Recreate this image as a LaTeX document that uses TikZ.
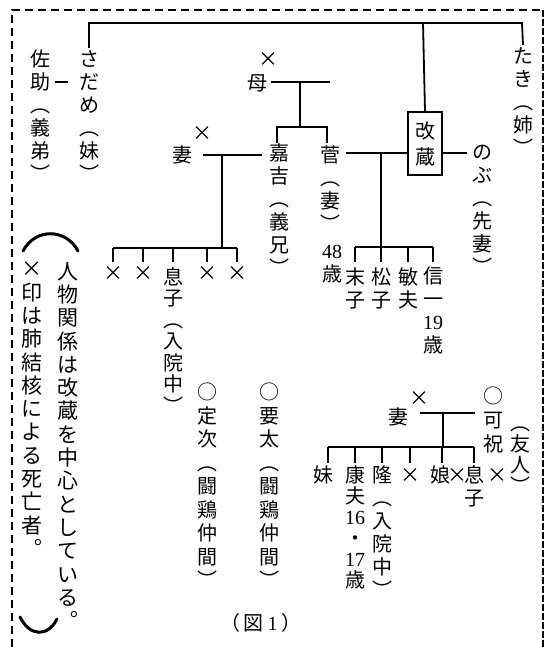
\documentclass[tikz,border=0pt]{standalone}
\usepackage{fontspec}
\setmainfont{Liberation Serif}
\newfontfamily\cjk{Noto Sans CJK JP}
\newcommand{\batsu}{\makebox[12pt]{×}}
\begin{document}
\begin{tikzpicture}[x=1pt,y=-1pt,
  vt/.style={anchor=north, inner sep=0pt, align=center, font=\cjk\fontsize{20}{23}\selectfont},
  ch/.style={inner sep=0pt, font=\cjk\fontsize{20}{20}\selectfont},
  xm/.style={inner sep=0pt, font=\cjk\fontsize{20}{20}\selectfont},
  ln/.style={line width=1.8pt},
  bd/.style={line width=1.5pt, dash pattern=on 8pt off 5pt},
  bdr/.style={line width=1.5pt, dash pattern=on 7pt off 2pt},
  paren/.style={line width=3pt, line cap=round}]
\useasboundingbox (0,0) rectangle (549,647);
% frame
\draw[bd] (12,647) -- (12,10) -- (543,10);
\draw[bdr] (543,10) -- (543,647);

% top generation
\node[vt] (sasuke) at (40,50) {佐\\助\\︵\\義\\弟\\︶};
\node[vt] (sadame) at (89,50) {さ\\だ\\め\\︵\\妹\\︶};
\node[vt] (taki) at (523,47) {た\\き\\︵\\姉\\︶};
\node[draw, line width=1.5pt, inner sep=0pt, minimum width=34pt, minimum height=63pt, align=center,
      font=\cjk\fontsize{20}{26}\selectfont] (kaizo) at (425,143.5) {改\\蔵};
\node[vt] (nobu) at (482,145) {の\\ぶ\\︵\\先\\妻\\︶};
\node[vt] (suga) at (330,145) {菅\\︵\\妻\\︶};
\node[vt] (age48) at (332,245) {{\rmfamily 48}\\歳};

\coordinate (topl) at (88,23);
\coordinate (topk) at (423,23);
\coordinate (topr) at (522,23);
\draw[ln] ([yshift=2pt]sadame.north) |- (topr) -- ([yshift=2pt]taki.north);
\draw[ln] (topk) -- (kaizo.north);

\coordinate (ss1) at (55,82);
\coordinate (ss2) at (68,82);
\draw[ln] (ss1) -- (ss2);

% mother
\node[ch] (mother) at (257,83) {母};
\node[xm] (xmother) at (268,60) {\batsu};
\node[vt] (kakichi) at (279,143) {嘉\\吉\\︵\\義\\兄\\︶};
\coordinate (m1) at (271,82);
\coordinate (m2) at (330,82);
\coordinate (m3) at (300,82);
\coordinate (m4) at (300,127);
\coordinate (kb1) at (277,127);
\coordinate (kb2) at (327,127);
\draw[ln] (m1) -- (m2);
\draw[ln] (m3) -- (m4);
\draw[ln] (kb1 |- kakichi.north) -- (kb1) -- (kb2) -- (kb2 |- kakichi.north);

% kakichi's wife and children
\node[ch] (kwife) at (182,155) {妻};
\node[xm] (xkwife) at (202,134) {\batsu};
\coordinate (w1) at (203,155);
\coordinate (w2) at (262,155);
\coordinate (w3) at (222,155);
\coordinate (wbar) at (222,248);
\draw[ln] (w1) -- (w2);
\draw[ln] (w3) -- (wbar);
\node[xm] (kc1) at (113,274) {\batsu};
\node[xm] (kc2) at (143,274) {\batsu};
\node[vt, font=\cjk\fontsize{20}{21.5}\selectfont] (musuko) at (173,267) {息\\子\\︵\\入\\院\\中\\︶};
\node[xm] (kc4) at (207,274) {\batsu};
\node[xm] (kc5) at (237,274) {\batsu};
\draw[ln] (kc1.north |- wbar) -- (kc5.north |- wbar);
\foreach \n in {kc1,kc2,musuko,kc4,kc5} \draw[ln] (\n.north |- wbar) -- ++(0,14);

% kaizo's children
\coordinate (c1) at (346,153);
\coordinate (c2) at (467,153);
\coordinate (c3) at (381,153);
\coordinate (cbar) at (381,247);
\draw[ln] (c1) -- (kaizo.west |- c1);
\draw[ln] (kaizo.east |- c1) -- (c2);
\draw[ln] (c3) -- (cbar);
\node[vt] (sueko) at (355,267) {末\\子};
\node[vt] (matsuko) at (381,267) {松\\子};
\node[vt] (toshio) at (408,267) {敏\\夫};
\node[vt] (shinichi) at (433,267) {信\\一\\{\rmfamily 19}\\歳};
\draw[ln] (sueko.north |- cbar) -- (shinichi.north |- cbar);
\foreach \n in {sueko,matsuko,toshio,shinichi} \draw[ln] (\n.north |- cbar) -- ++(0,15);

% note
\draw[paren] (23,251) .. controls (35,228) and (66,228) .. (78,251);
\draw[paren] (20,617) .. controls (30,637) and (48,637) .. (57,619);
\node[vt, font=\cjk\fontsize{21}{23.3}\selectfont] (note1) at (68,262) {人\\物\\関\\係\\は\\改\\蔵\\を\\中\\心\\と\\し\\て\\い\\る\\︒};
\node[vt, font=\cjk\fontsize{21}{23.3}\selectfont] (note2) at (32,262) {×\\印\\は\\肺\\結\\核\\に\\よ\\る\\死\\亡\\者\\︒};

% friends
\node[vt, font=\cjk\fontsize{20}{23.5}\selectfont] (sadaji) at (207,383) {○\\定\\次\\︵\\闘\\鶏\\仲\\間\\︶};
\node[vt, font=\cjk\fontsize{20}{23.5}\selectfont] (yota) at (269,383) {○\\要\\太\\︵\\闘\\鶏\\仲\\間\\︶};
\node[ch] (fig) at (261,623) {（\hspace{3pt}図\hspace{4pt}{\rmfamily 1}\hspace{4pt}）};

% bottom right family
\node[ch] (wife2) at (398,417) {妻};
\node[xm] (xwife2) at (419,399) {\batsu};
\node[vt, font=\cjk\fontsize{20}{24}\selectfont] (kashuku) at (493,387) {○\\可\\祝};
\node[vt, font=\cjk\fontsize{20}{21}\selectfont] (yujin) at (520,427) {︵\\友\\人\\︶};
\coordinate (f1) at (420,413);
\coordinate (f2) at (475,413);
\coordinate (f3) at (443,413);
\coordinate (fbar) at (443,447);
\draw[ln] (f1) -- (f2);
\draw[ln] (f3) -- (fbar);
\node[ch] (imouto) at (323,475) {妹};
\node[vt, font=\cjk\fontsize{20}{21}\selectfont] (yasuo) at (355,465) {康\\夫\\{\rmfamily 16}\\・\\{\rmfamily 17}\\歳};
\node[vt] (takashi) at (382,465) {隆\\︵\\入\\院\\中\\︶};
\node[xm] (bc4) at (410,476) {\batsu};
\node[ch] (musume) at (440,475) {娘};
\node[xm] (bx1) at (457,476) {\batsu};
\node[vt] (musuko2) at (474,465) {息\\子};
\node[xm] (bx2) at (497,476) {\batsu};
\coordinate (fb1) at (328,447);
\coordinate (fb6) at (474,447);
\draw[ln] (fb1) -- (fb6);
\foreach \xx in {328,355,382,410,442,474} \draw[ln] (\xx,447) -- (\xx,463);
\end{tikzpicture}
\end{document}
